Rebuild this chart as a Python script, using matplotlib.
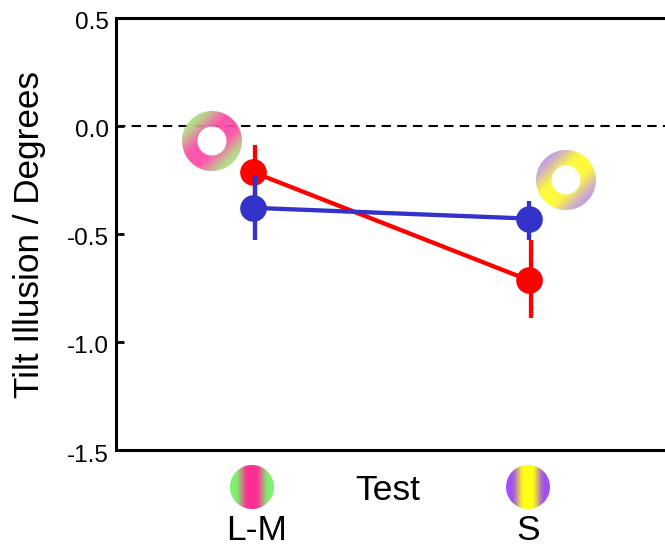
import numpy as np
import matplotlib
matplotlib.use('Agg')
import matplotlib.pyplot as plt
from matplotlib.transforms import ScaledTranslation

plt.rcParams['font.family'] = ['Liberation Sans', 'DejaVu Sans']

W = 665
H = 546

conditions = ['L-M', 'S']
red_mean = [-0.215, -0.715]
red_low = [-0.33, -0.89]
red_high = [-0.09, -0.53]
blue_mean = [-0.38, -0.43]
blue_low = [-0.53, -0.53]
blue_high = [-0.23, -0.35]
yticks = [0.5, 0.0, -0.5, -1.0, -1.5]

RED = '#ff0000'
BLUE = '#3333cc'

lm_edge = (128, 240, 112)
lm_mid = (255, 45, 150)
s_edge = (160, 80, 240)
s_mid = (255, 255, 20)
lm_ring_edge = (170, 225, 125)
lm_ring_mid = (255, 70, 165)
s_ring_edge = (190, 150, 225)
s_ring_mid = (255, 250, 40)


def blend(edge, mid, t):
    # t = 0 at the edge colour, 1 at the middle colour
    edge = np.array(edge) / 255.
    mid = np.array(mid) / 255.
    return edge + (mid - edge) * t[..., None]


def disc(cx, cy, r, edge, mid):
    # vertical stripes inside a circle, placed in pixel coords
    n = int(r * 2 + 4)
    c = (n - 1) / 2.
    yy, xx = np.mgrid[0:n, 0:n] - c
    t = np.clip(1.25 - np.abs(xx) / (r * 0.62), 0, 1)
    t = t * t * (3 - 2 * t)
    rgb = blend(edge, mid, t)
    a = np.clip(r + 0.5 - np.hypot(xx, yy), 0, 1)
    img = np.dstack([rgb, a])
    fig.figimage(img, xo=int(cx - c), yo=int(H - cy - c), origin='upper', zorder=5)


def ring(cx, cy, r, rin, edge, mid):
    # diagonal stripes with a fine texture and a white hole
    n = int(r * 2 + 4)
    c = (n - 1) / 2.
    yy, xx = np.mgrid[0:n, 0:n] - c
    d = (xx + yy) / np.sqrt(2)
    t = np.clip(1.2 - np.abs(d) / (r * 0.85), 0, 1)
    t = t * t * (3 - 2 * t)
    rgb = blend(edge, mid, t)
    tex = ((np.arange(n)[None, :] - np.arange(n)[:, None]) % 3 == 0)
    rgb = rgb + (1 - rgb) * 0.08 * tex[..., None]
    rad = np.hypot(xx, yy)
    a = np.clip(r + 0.5 - rad, 0, 1) * 0.93
    hole = np.clip(rin + 0.5 - rad, 0, 1)[..., None]
    rgb = rgb * (1 - hole) + hole
    a = np.maximum(a, hole[..., 0])
    img = np.dstack([rgb, a])
    fig.figimage(img, xo=int(cx - c), yo=int(H - cy - c), origin='upper', zorder=5)


fig = plt.figure(figsize=(W / 100., H / 100.), dpi=100)
ax = fig.add_axes([115.5 / W, 1 - 450. / H, (W - 115.5) / W, (450 - 17.5) / H])

x = np.arange(len(conditions))
px = 1 / 276.

ax.axhline(0, color='k', lw=1.5, dashes=(4.5, 3), zorder=1)

# error bars sit a couple of pixels off the markers in the original
ax.vlines(x + 2 * px, red_low, red_high, color=RED, lw=3.1, zorder=2)
ax.plot(x, red_mean, '-o', color=RED, lw=3.1, ms=19.2, mew=0, zorder=3)
ax.vlines(x + np.array([2, 0]) * px, blue_low, blue_high, color=BLUE, lw=3.1, zorder=4)
ax.plot(x, blue_mean, '-o', color=BLUE, lw=3.1, ms=19.2, mew=0, zorder=3.5)

ax.set_xlim((115.5 - 253) / 276., (665 - 253) / 276.)
ax.set_ylim(-1.5, 0.5)
ax.set_xticks([])
ax.set_yticks(yticks)
ax.set_yticklabels(['%.1f' % v for v in yticks])
ax.tick_params(axis='y', direction='in', length=6, width=2, labelsize=17.5, pad=5)
shift = ScaledTranslation(0, -3 / 100., fig.dpi_scale_trans)
for lab in ax.get_yticklabels():
    lab.set_transform(lab.get_transform() + shift)
ax.spines['right'].set_visible(False)
for s in ['left', 'top', 'bottom']:
    ax.spines[s].set_linewidth(2.2)

fig.text(29.5 / W, 1 - 235. / H, 'Tilt Illusion / Degrees', rotation=90, fontsize=25.3,
         ha='center', va='center')
fig.text(388 / W, 1 - 491. / H, 'Test', fontsize=25.5, ha='center', va='center')
fig.text(257 / W, 1 - 530. / H, conditions[0], fontsize=25.5, ha='center', va='center')
fig.text(528 / W, 1 - 530. / H, conditions[1], fontsize=25.5, ha='center', va='center')

ring(211.5, 141.5, 30, 14.5, lm_ring_edge, lm_ring_mid)
ring(565.5, 180.5, 30, 14.5, s_ring_edge, s_ring_mid)
disc(252, 487, 22, lm_edge, lm_mid)
disc(528, 487, 22, s_edge, s_mid)

plt.savefig('out.png', dpi=100, facecolor='w')
plt.close()
